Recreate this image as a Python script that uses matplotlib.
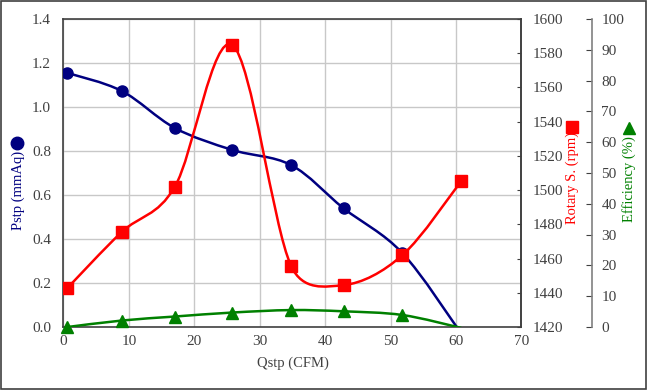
import numpy as np
import matplotlib
matplotlib.use('Agg')
import matplotlib.pyplot as plt
from matplotlib.path import Path
from matplotlib.patches import PathPatch, Rectangle
from matplotlib.lines import Line2D

# Data
qstp = [0.6, 8.9, 17.0, 25.8, 34.8, 42.8, 51.8, 60.8]
pstp = [1.155, 1.073, 0.905, 0.805, 0.736, 0.54, 0.336, -0.03]
rpm = [1442.8, 1475.5, 1501.8, 1584.8, 1455.6, 1444.5, 1462.0, 1505.3]
eff = [0.0, 2.1, 3.4, 4.7, 5.5, 5.1, 3.9, -0.3]

navy = '#000080'
red = '#FF0000'
green = '#008000'
txt = '#404040'

plt.rcParams['font.family'] = ['Liberation Serif', 'DejaVu Serif']
plt.rcParams['font.size'] = 11


def smooth(ax, x, y, color, z):
    # Excel-like smoothed line: cubic bezier, control points worked out in
    # pixel space and kept within half of each segment
    pts = ax.transData.transform(np.column_stack([x, y]))
    n = len(pts)
    verts = [pts[0]]
    codes = [Path.MOVETO]
    for i in range(n - 1):
        p0 = pts[i - 1] if i > 0 else pts[i]
        p1 = pts[i]
        p2 = pts[i + 1]
        p3 = pts[i + 2] if i + 2 < n else pts[i + 1]
        d12 = np.hypot(*(p2 - p1))
        t1 = (p2 - p0) / 6
        t2 = (p3 - p1) / 6
        l1 = np.hypot(*t1)
        l2 = np.hypot(*t2)
        if l1 > d12 / 2:
            t1 = t1 * (d12 / 2) / l1
        if l2 > d12 / 2:
            t2 = t2 * (d12 / 2) / l2
        verts += [p1 + t1, p2 - t2, p2]
        codes += [Path.CURVE4] * 3
    verts = ax.transData.inverted().transform(np.array(verts))
    ax.add_patch(PathPatch(Path(verts, codes), fill=False, edgecolor=color,
                           lw=1.8, zorder=z))


fig = plt.figure(figsize=(6.47, 3.90), dpi=100)
fig.add_artist(Rectangle((0.001, 0.002), 0.997, 0.995, transform=fig.transFigure,
                         fill=False, edgecolor='#404040', lw=1.2))

ax = fig.add_axes([0.0981, 0.1615, 0.7079, 0.7897])
ax2 = ax.twinx()
ax3 = ax.twinx()

# Primary axis: Pstp
ax.set_xlim(0, 70)
ax.set_ylim(0, 1.4)
ax.set_xticks(range(0, 71, 10))
ax.set_yticks(np.arange(0, 1.41, 0.2))
ax.set_yticklabels(['%.1f' % v for v in np.arange(0, 1.41, 0.2)])
ax.grid(True, color='#C8C8C8', lw=1.0)
ax.set_axisbelow(True)
ax.tick_params(length=0, colors=txt, labelsize=11)
ax.tick_params(axis='y', pad=9)
ax.tick_params(axis='x', pad=6)
for s in ax.spines.values():
    s.set_color('#404040')
    s.set_linewidth(1.2)
ax.set_xlabel('Qstp (CFM)', color=txt, fontsize=10.5, labelpad=6)

# Rotary speed axis
ax2.set_ylim(1420, 1600)
ax2.set_yticks(range(1420, 1601, 20))
ax2.tick_params(axis='y', direction='in', length=3, colors=txt, labelsize=11, pad=8)
for s in ['left', 'top', 'bottom']:
    ax2.spines[s].set_visible(False)
ax2.spines['right'].set_color('#404040')
ax2.spines['right'].set_linewidth(1.2)

# Efficiency axis
ax3.spines['right'].set_position(('axes', 1.153))
for s in ['left', 'top', 'bottom']:
    ax3.spines[s].set_visible(False)
ax3.spines['right'].set_color('#808080')
ax3.spines['right'].set_linewidth(1.2)
ax3.set_ylim(0, 100)
ax3.set_yticks(range(0, 101, 10))
ax3.tick_params(axis='y', direction='in', length=4, colors=txt, labelsize=11, pad=7)

smooth(ax, qstp, pstp, navy, 3)
ax.plot(qstp[:-1], pstp[:-1], 'o', color=navy, ms=8, zorder=4)
smooth(ax2, qstp, rpm, red, 3)
ax2.plot(qstp, rpm, 's', color=red, ms=8, zorder=4)
smooth(ax3, qstp, eff, green, 5)
ax3.plot(qstp[:-1], eff[:-1], '^', color=green, ms=8, zorder=6, clip_on=False)

# Axis titles with their marker symbols
fig.text(18 / 647, 1 - 190 / 390, 'Pstp (mmAq)', rotation=90, color=navy,
         fontsize=10.5, ha='center', va='center')
fig.add_artist(Line2D([17 / 647], [1 - 143 / 390], marker='o', color=navy,
                      ms=9, transform=fig.transFigure))
fig.text(572 / 647, 1 - 178 / 390, 'Rotary S. (rpm)', rotation=90, color=red,
         fontsize=10.5, ha='center', va='center')
fig.add_artist(Line2D([572 / 647], [1 - 127 / 390], marker='s', color=red,
                      ms=9, transform=fig.transFigure))
fig.text(629 / 647, 1 - 179 / 390, 'Efficiency (%)', rotation=90, color=green,
         fontsize=10.5, ha='center', va='center')
fig.add_artist(Line2D([629 / 647], [1 - 128 / 390], marker='^', color=green,
                      ms=9, transform=fig.transFigure))

fig.savefig('out.png', dpi=100)
